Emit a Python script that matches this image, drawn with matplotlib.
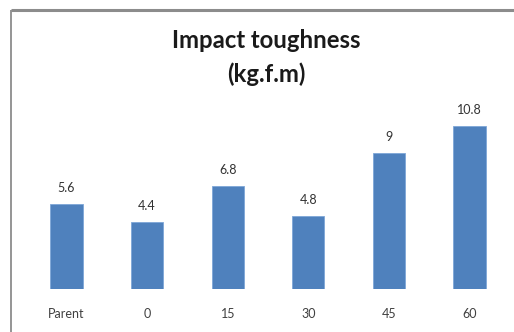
import matplotlib
matplotlib.use('Agg')
import matplotlib.pyplot as plt

categories = ['Parent', '0', '15', '30', '45', '60']
toughness = [5.6, 4.4, 6.8, 4.8, 9, 10.8]
value_labels = ['5.6', '4.4', '6.8', '4.8', '9', '10.8']

plt.rcParams['font.family'] = ['Lato', 'DejaVu Sans']

fig = plt.figure(figsize=(5.14, 3.32), dpi=100)
fig.patch.set_facecolor('white')

# chart border, only top and left edges show
border = fig.add_axes([0, 0, 1, 1])
border.set_xlim(0, 514)
border.set_ylim(332, 0)
border.axis('off')
border.plot([11, 514], [10, 10], color='#8c8c8c', lw=2.2, solid_capstyle='butt')
border.plot([11, 11], [10, 332], color='#8c8c8c', lw=1.3, solid_capstyle='butt')

fig.text(0.518, 0.877, 'Impact toughness', ha='center', va='center',
         fontsize=17.2, fontweight='bold', color='#1a1a1a')
fig.text(0.518, 0.777, '(kg.f.m)', ha='center', va='center',
         fontsize=17.2, fontweight='bold', color='#1a1a1a')

ax = fig.add_axes([0.051, 0.1304, 0.941, 0.545])
x = range(len(categories))
ax.bar(x, toughness, width=0.4, color='#4f81bd', edgecolor='#7ea6d8', linewidth=0.6)
for i, v in enumerate(toughness):
    ax.annotate(value_labels[i], (i, v), xytext=(0, 11.5), textcoords='offset points',
                ha='center', va='center', fontsize=9, color='#333333')

ax.set_xlim(-0.5, len(categories) - 0.5)
ax.set_ylim(0, 12)
ax.set_xticks(list(x))
ax.set_xticklabels(categories, fontsize=9, color='#404040')
ax.tick_params(axis='x', length=0, pad=14)
ax.set_yticks([])
for s in ax.spines.values():
    s.set_visible(False)
ax.patch.set_alpha(0)

fig.savefig('out.png', dpi=100)
